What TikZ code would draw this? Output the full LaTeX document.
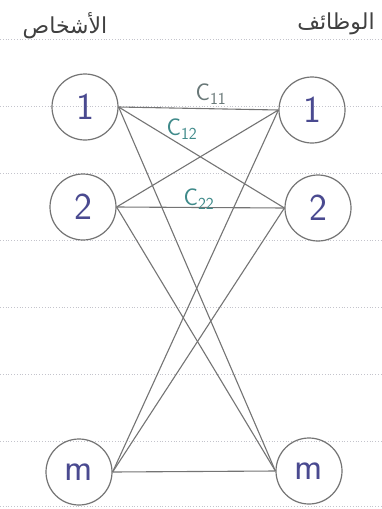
\documentclass[tikz,border=0pt]{standalone}
\usepackage{fontspec}
\newfontfamily\arabicfont[Script=Arabic]{DejaVu Sans}
\TeXXeTstate=1
\definecolor{pencil}{HTML}{747474}
\definecolor{ink}{HTML}{4A4A90}
\definecolor{tealink}{HTML}{3F8A8A}
\definecolor{rule}{HTML}{C4C4CC}
\tikzset{
  pnode/.style={circle, draw=pencil, line width=1.2pt, minimum size=66pt, inner sep=0pt,
    text=ink, font=\sffamily\fontsize{38}{38}\selectfont},
  edge/.style={draw=pencil, line width=1.1pt},
  clabel/.style={font=\sffamily\fontsize{24}{24}\selectfont, inner sep=0pt},
  paperline/.style={draw=rule, line width=0.8pt, dotted},
  header/.style={font=\arabicfont\fontsize{22}{22}\selectfont, text=black!75, inner sep=0pt}
}
\begin{document}
\begin{tikzpicture}[x=1pt,y=-1pt]
\useasboundingbox (0,0) rectangle (382,509);
\fill[white] (0,0) rectangle (382,509);
\foreach \yy in {39,106,173,240,307,374,441,506}
  \draw[paperline] (0,\yy) -- (382,\yy);
\node[header] (hl) at (65,26) {\beginR الأشخاص\endR};
\node[header] (hr) at (336,24) {\beginR الوظائف\endR};
\node[pnode] (L1) at (85,107) {1};
\node[pnode] (L2) at (83,207) {2};
\node[pnode] (Lm) at (79,472) {m};
\node[pnode] (R1) at (312,110) {1};
\node[pnode] (R2) at (318,208) {2};
\node[pnode] (Rm) at (309,471) {m};
\foreach \a in {L1,L2,Lm}
  \foreach \b in {R1,R2,Rm}
    \draw[edge] (\a.east) -- (\b.west);
\node[clabel, text=pencil!80!tealink] (c11) at (211,94) {C\textsubscript{11}};
\node[clabel, text=tealink] (c12) at (182,129) {C\textsubscript{12}};
\node[clabel, text=tealink] (c22) at (199,199) {C\textsubscript{22}};
\end{tikzpicture}
\end{document}
